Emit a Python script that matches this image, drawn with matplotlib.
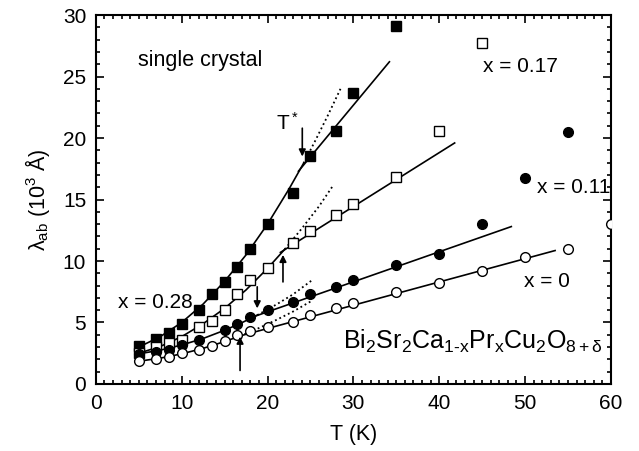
import matplotlib
matplotlib.use("Agg")
import matplotlib.pyplot as plt
from matplotlib.ticker import MultipleLocator

plt.rcParams['font.family'] = ['Liberation Sans', 'DejaVu Sans']
plt.rcParams['mathtext.fontset'] = 'custom'
plt.rcParams['mathtext.rm'] = 'Liberation Sans'
plt.rcParams['mathtext.it'] = 'Liberation Sans'

# ---- data points (T in K, lambda in 10^3 Angstrom) ----
T_028 = [5, 7, 8.5, 10, 12, 13.5, 15, 16.5, 18, 20, 23, 25, 28, 30, 35]
L_028 = [3.1, 3.65, 4.15, 4.9, 6.05, 7.3, 8.3, 9.5, 11.0, 13.05, 15.55, 18.5, 20.55, 23.7, 29.1]

T_017 = [5, 7, 8.5, 10, 12, 13.5, 15, 16.5, 18, 20, 23, 25, 28, 30, 35, 40, 45]
L_017 = [2.5, 3.0, 3.3, 3.6, 4.65, 5.1, 6.0, 7.3, 8.45, 9.45, 11.45, 12.45, 13.75, 14.6, 16.85, 20.55, 27.75]

T_011 = [5, 7, 8.5, 10, 12, 15, 16.5, 18, 20, 23, 25, 28, 30, 35, 40, 45, 50, 55]
L_011 = [2.4, 2.6, 2.8, 3.2, 3.6, 4.35, 4.9, 5.45, 6.0, 6.65, 7.3, 7.9, 8.45, 9.65, 10.6, 13.05, 16.75, 20.5]

T_000 = [5, 7, 8.5, 10, 12, 13.5, 15, 16.5, 18, 20, 23, 25, 28, 30, 35, 40, 45, 50, 55, 60]
L_000 = [1.85, 2.05, 2.2, 2.5, 2.8, 3.1, 3.5, 3.95, 4.3, 4.65, 5.05, 5.6, 6.2, 6.55, 7.5, 8.25, 9.2, 10.3, 10.95, 13.0]

# ---- fit curves ----
cT_028 = [5, 7.5, 10, 12.5, 15, 17.5, 20, 22.5, 24.2]
cL_028 = [3.0, 3.85, 5.0, 6.5, 8.35, 10.5, 13.0, 15.85, 17.95]
dT_028 = [24.2, 25.5, 27, 28.5]
dL_028 = [17.95, 19.7, 21.8, 24.0]
hT_028 = [23.6, 34.2]
hL_028 = [17.3, 26.2]

cT_017 = [5, 7.5, 10, 12.5, 15, 17.5, 20, 22.0]
cL_017 = [2.5, 3.05, 3.85, 4.9, 6.15, 7.65, 9.4, 10.95]
dT_017 = [22.0, 24, 26, 27.6]
dL_017 = [10.95, 12.65, 14.45, 16.1]
hT_017 = [21.5, 41.8]
hL_017 = [10.7, 19.6]

cT_011 = [5, 7.5, 10, 12.5, 15, 17, 18.8]
cL_011 = [2.45, 2.75, 3.17, 3.7, 4.37, 4.98, 5.6]
dT_011 = [18.8, 21, 23, 25.3]
dL_011 = [5.6, 6.45, 7.3, 8.5]
hT_011 = [18.5, 48.4]
hL_011 = [5.5, 12.8]

cT_000 = [5, 7.5, 10, 12.5, 15, 16.8]
cL_000 = [1.85, 2.1, 2.45, 2.9, 3.45, 3.9]
dT_000 = [16.8, 19, 21, 23, 25]
dL_000 = [3.9, 4.55, 5.2, 5.9, 6.7]
hT_000 = [16.5, 53.5]
hL_000 = [3.85, 10.85]

fig = plt.figure(figsize=(6.39, 4.51), dpi=100)
ax = fig.add_axes([0.150, 0.1486, 0.806, 0.818])

lw = 1.2
for cT, cL, dT, dL, hT, hL in [
        (cT_028, cL_028, dT_028, dL_028, hT_028, hL_028),
        (cT_017, cL_017, dT_017, dL_017, hT_017, hL_017),
        (cT_011, cL_011, dT_011, dL_011, hT_011, hL_011),
        (cT_000, cL_000, dT_000, dL_000, hT_000, hL_000)]:
    ax.plot(cT, cL, '-', color='black', lw=lw, zorder=2)
    ax.plot(dT, dL, ':', color='black', lw=1.3, zorder=2)
    ax.plot(hT, hL, '-', color='black', lw=lw, zorder=2)

ms = 6.5
ax.plot(T_028, L_028, 's', ms=ms, mfc='black', mec='black', mew=1.0, zorder=3)
ax.plot(T_017, L_017, 's', ms=ms, mfc='white', mec='black', mew=1.0, zorder=3)
ax.plot(T_011, L_011, 'o', ms=ms + 0.5, mfc='black', mec='black', mew=1.0, zorder=3)
ax.plot(T_000, L_000, 'o', ms=ms + 0.5, mfc='white', mec='black', mew=1.0, zorder=3)

ax.set_xlim(0, 60)
ax.set_ylim(0, 30)
ax.xaxis.set_major_locator(MultipleLocator(10))
ax.xaxis.set_minor_locator(MultipleLocator(1))
ax.yaxis.set_major_locator(MultipleLocator(5))
ax.yaxis.set_minor_locator(MultipleLocator(1))
ax.tick_params(which='both', direction='in', top=True, right=True, width=1.2)
ax.tick_params(which='major', length=6, labelsize=15, pad=7)
ax.tick_params(which='minor', length=3)
for s in ax.spines.values():
    s.set_linewidth(1.5)

ax.set_xlabel('T (K)', fontsize=15.5, labelpad=8)
ax.set_ylabel(r'$\lambda_{\mathrm{ab}}$ (10$^3$ Å)', fontsize=15.5, labelpad=8)

fs = 15
ax.text(4.9, 26.3, 'single crystal', fontsize=15.5, va='center', ha='left')
ax.text(45.1, 25.8, 'x = 0.17', fontsize=fs, va='center', ha='left')
ax.text(51.4, 16.0, 'x = 0.11', fontsize=fs, va='center', ha='left')
ax.text(49.9, 8.3, 'x = 0', fontsize=fs, va='center', ha='left')
ax.text(2.6, 6.6, 'x = 0.28', fontsize=fs, va='center', ha='left')
ax.text(28.8, 3.5, r'Bi$_2$Sr$_2$Ca$_{1\text{-}x}$Pr$_x$Cu$_2$O$_{8+\delta}$', fontsize=18, va='center', ha='left')
ax.text(22.3, 21.2, r'T$^*$', fontsize=fs, va='center', ha='center')

ap = dict(arrowstyle='-|>', color='black', lw=1.2, mutation_scale=10, shrinkA=0, shrinkB=0)
ax.annotate('', xy=(24.05, 18.5), xytext=(24.05, 20.8), arrowprops=ap)
ax.annotate('', xy=(21.8, 10.5), xytext=(21.8, 8.3), arrowprops=ap)
ax.annotate('', xy=(18.8, 6.15), xytext=(18.8, 7.9), arrowprops=ap)
ax.annotate('', xy=(16.8, 3.85), xytext=(16.8, 1.1), arrowprops=ap)

fig.savefig('out.png', dpi=100)
